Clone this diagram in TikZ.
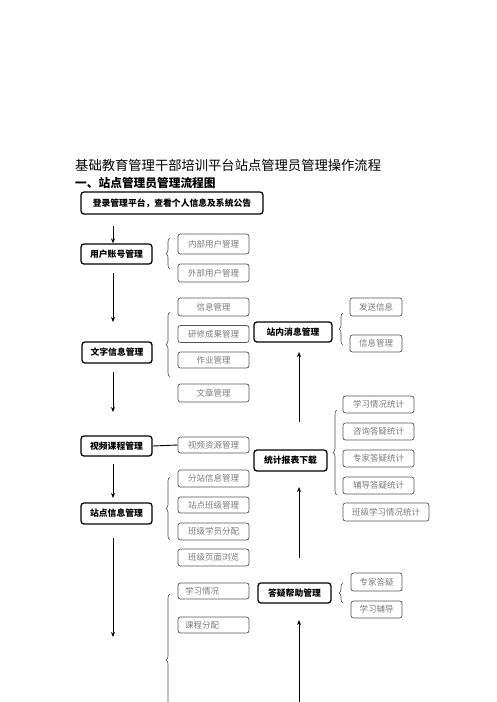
\documentclass[tikz,border=0pt]{standalone}
\usepackage{fontspec}
\newfontfamily\cjk{Noto Sans CJK SC}
\usetikzlibrary{decorations.pathreplacing,arrows.meta}
\definecolor{subtext}{HTML}{7A7A7A}
\definecolor{subline}{HTML}{555555}
\tikzset{
  mainbox/.style={draw=black, rounded corners=3pt, line width=1.3pt, inner sep=0pt,
    font=\cjk\bfseries\fontsize{8.8}{9}\selectfont, text=black},
  subbox/.style={draw=subline, rounded corners=2.5pt, line width=0.7pt, inner sep=0pt,
    font=\cjk\fontsize{8.5}{9}\selectfont, text=subtext},
  flow/.style={-{Stealth[length=5pt,width=4pt]}, line width=0.9pt},
  brc/.style={decorate, decoration={brace, amplitude=4pt}, line width=0.6pt, draw=black!70},
}
\begin{document}
\begin{tikzpicture}[x=1pt,y=-1pt]
\useasboundingbox (0,0) rectangle (496,702);
\clip (0,0) rectangle (496,702);
% titles
\node[anchor=west, inner sep=0pt, font=\cjk\fontsize{13.3}{14}\selectfont] (t1) at (75,165) {基础教育管理干部培训平台站点管理员管理操作流程};
\node[anchor=west, inner sep=0pt, font=\cjk\bfseries\fontsize{11.7}{12}\selectfont] (t2) at (75,183) {一、站点管理员管理流程图};
% main boxes left
\node[mainbox, minimum width=182pt, minimum height=22pt] (login) at (172,203) {登录管理平台，查看个人信息及系统公告};
\node[mainbox, minimum width=71pt, minimum height=20pt] (user) at (116.5,254) {用户账号管理};
\node[mainbox, minimum width=70pt, minimum height=21pt] (text) at (117,352.5) {文字信息管理};
\node[mainbox, minimum width=71pt, minimum height=20pt] (video) at (116.5,446) {视频课程管理};
\node[mainbox, minimum width=71pt, minimum height=21pt] (site) at (116.5,513.5) {站点信息管理};
% sub boxes left
\node[subbox, minimum width=71pt, minimum height=20pt] (s1) at (213.5,244) {内部用户管理};
\node[subbox, minimum width=71pt, minimum height=18pt] (s2) at (213.5,273) {外部用户管理};
\node[subbox, minimum width=71pt, minimum height=18pt] (s3) at (213.5,307) {信息管理};
\node[subbox, minimum width=71pt, minimum height=17pt] (s4) at (213.5,334) {研修成果管理};
\node[subbox, minimum width=71pt, minimum height=16pt] (s5) at (213.5,360) {作业管理};
\node[subbox, minimum width=71pt, minimum height=18pt] (s6) at (213.5,393) {文章管理};
\node[subbox, minimum width=71pt, minimum height=16pt] (s7) at (213.5,445) {视频资源管理};
\node[subbox, minimum width=71pt, minimum height=17pt] (s8) at (213.5,478.5) {分站信息管理};
\node[subbox, minimum width=71pt, minimum height=16pt] (s9) at (213.5,505) {站点班级管理};
\node[subbox, minimum width=71pt, minimum height=17pt] (s10) at (213.5,531.5) {班级学员分配};
\node[subbox, minimum width=71pt, minimum height=17pt] (s11) at (213.5,557.5) {班级页面浏览};
\node[subbox, minimum width=71pt, minimum height=16pt, text width=57pt, align=left] (s12) at (213.5,591) {学习情况};
\node[subbox, minimum width=71pt, minimum height=16pt, text width=57pt, align=left] (s13) at (213.5,625) {课程分配};
% right column main boxes
\node[mainbox, minimum width=78pt, minimum height=20pt] (msg) at (293,332) {站内消息管理};
\node[mainbox, minimum width=73pt, minimum height=21pt] (stat) at (290.5,460.5) {统计报表下载};
\node[mainbox, minimum width=73pt, minimum height=20pt] (qa) at (294.5,593) {答疑帮助管理};
% right sub boxes
\node[subbox, minimum width=52pt, minimum height=18pt] (r1) at (376,307) {发送信息};
\node[subbox, minimum width=52pt, minimum height=17pt] (r2) at (376,343.5) {信息管理};
\node[subbox, minimum width=71pt, minimum height=17pt] (r3) at (378.5,404.5) {学习情况统计};
\node[subbox, minimum width=71pt, minimum height=17pt] (r4) at (378.5,431.5) {咨询答疑统计};
\node[subbox, minimum width=71pt, minimum height=17pt] (r5) at (378.5,458.5) {专家答疑统计};
\node[subbox, minimum width=71pt, minimum height=17pt] (r6) at (378.5,485.5) {辅导答疑统计};
\node[subbox, minimum width=86pt, minimum height=18pt] (r7) at (386,512) {班级学习情况统计};
\node[subbox, minimum width=51pt, minimum height=18pt] (r8) at (376.5,582) {专家答疑};
\node[subbox, minimum width=51pt, minimum height=17pt] (r9) at (376.5,609.5) {学习辅导};
% connector video -> video resources
\draw[line width=0.9pt] (video.east) -- (s7.west);
% left arrows
\coordinate (a1s) at (113,226);
\coordinate (a2s) at (113,273); \coordinate (a2e) at (113,322);
\coordinate (a3s) at (113,372); \coordinate (a3e) at (113,412);
\coordinate (a4s) at (113,464); \coordinate (a4e) at (113,498);
\coordinate (a5s) at (113,538); \coordinate (a5e) at (113,637);
\draw[flow] (a1s) -- (a1s |- user.north);
\draw[flow] (a2s) -- (a2e);
\draw[flow] (a3s) -- (a3e);
\draw[flow] (a4s) -- (a4e);
\draw[flow] (a5s) -- (a5e);
% right arrows (upward)
\coordinate (b1s) at (299,422); \coordinate (b1e) at (299,352);
\coordinate (b2s) at (299,558); \coordinate (b2e) at (299,487);
\coordinate (b3s) at (299,705); \coordinate (b3e) at (299,620);
\draw[flow] (b1s) -- (b1e);
\draw[flow] (b2s) -- (b2e);
\draw[flow] (b3s) -- (b3e);
% braces
\draw[brc] (170,269) -- (170,238);
\draw[brc] (170,377) -- (170,312);
\draw[brc] (170,540) -- (170,477);
\draw[brc] (170,726) -- (170,594);
\draw[brc] (343,345) -- (343,313);
\draw[brc] (337,495) -- (337,410);
\draw[brc] (343,603) -- (343,583);
\end{tikzpicture}
\end{document}
